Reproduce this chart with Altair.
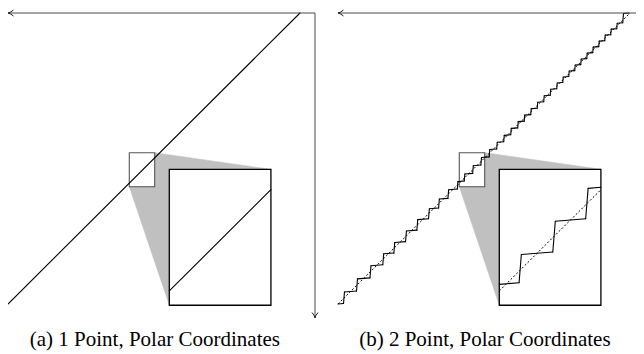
import altair as alt
import pandas as pd

# ---------------- data (panel units: the diagonal runs from (0,0) to (1,1)) ----------------
captions = ["(a) 1 Point, Polar Coordinates", "(b) 2 Point, Polar Coordinates"]
diag_u = [0.0, 1.0]
diag_v = [0.0, 1.0]
# step (riser) positions of the 2-point staircase in panel (b), along the diagonal
stair_risers = [0.0205, 0.0651, 0.1113, 0.1551, 0.1928, 0.2329, 0.2716, 0.3116,
                0.3459, 0.3777, 0.4099, 0.4332, 0.4623, 0.4904, 0.5188, 0.5445,
                0.5685, 0.5925, 0.6164, 0.6387, 0.6610, 0.6832, 0.7055, 0.7277,
                0.7500, 0.7705, 0.7911, 0.8116, 0.8322, 0.8527, 0.8733, 0.8938,
                0.9144, 0.9349, 0.9555, 0.9760]
stair_end = [0.9966, 1.0]
# zoom window (box) and where it is magnified
box_u = [0.4154, 0.5024]
box_v = [0.4031, 0.5199]
zoom = 4.0
inset_origin = [0.5524, 0.4629]   # left, top of inset
# axes arrows
arrow_top_v = 1.0
arrow_right_u = 1.0514
arrow_bottom_v = -0.0481

# ---------------- layout ----------------
W, H = 628, 346
panel_shift = [0.0, 1.1301]
caption_pos = [0.503, -0.1222]
xs = alt.Scale(domain=[0, W / 292.0], range=[0, W], nice=False, zero=False)
ys = alt.Scale(domain=[(296 - H) / 291.0, 296 / 291.0], range=[H, 0], nice=False, zero=False)
squeeze = 0.85


def clip(x0, y0, x1, y1, xmin, xmax, ymin, ymax):
    t0, t1 = 0.0, 1.0
    dx, dy = x1 - x0, y1 - y0
    for p, q in ((-dx, x0 - xmin), (dx, xmax - x0), (-dy, y0 - ymin), (dy, ymax - y0)):
        if p == 0:
            if q < 0:
                return None
        else:
            r = q / p
            if p < 0:
                if r > t1:
                    return None
                t0 = max(t0, r)
            else:
                if r < t0:
                    return None
                t1 = min(t1, r)
    return (x0 + t0 * dx, y0 + t0 * dy, x0 + t1 * dx, y0 + t1 * dy)


def to_inset(u, v):
    return (inset_origin[0] + zoom * (u - box_u[0]), inset_origin[1] + zoom * (v - box_v[1]))


# staircase vertices
levels = [(stair_risers[k] + stair_risers[k + 1]) / 2 for k in range(len(stair_risers) - 1)] + [stair_end[1]]
pts = [(0.0, 0.0)]
prev = 0.0
for r, l in zip(stair_risers, levels):
    pts.append((r, prev))
    pts.append((r, l))
    prev = l
pts.append((stair_end[0], prev))
sq = []
for u, v in pts:
    m, d = (u + v) / 2, (u - v) / 2
    sq.append((m + squeeze * d, m - squeeze * d))
stair_segs = [(sq[i][0], sq[i][1], sq[i + 1][0], sq[i + 1][1]) for i in range(len(sq) - 1)]
diag_seg = [(diag_u[0], diag_v[0], diag_u[1], diag_v[1])]

inset_w = zoom * (box_u[1] - box_u[0])
inset_h = zoom * (box_v[1] - box_v[0])
iu0, iv1 = inset_origin
iu1, iv0 = iu0 + inset_w, iv1 - inset_h

solid_rows, dashed_rows, axis_rows, rect_rows, poly_rows, head_rows, text_rows = [], [], [], [], [], [], []
for p, sh in enumerate(panel_shift):
    main_solid = diag_seg if p == 0 else stair_segs
    main_dashed = [] if p == 0 else diag_seg
    for kind, segs in (("s", main_solid), ("d", main_dashed)):
        for (a, b, c, d) in segs:
            row = dict(x=a + sh, y=b, x2=c + sh, y2=d)
            (solid_rows if kind == "s" else dashed_rows).append(row)
            cl = clip(a, b, c, d, box_u[0], box_u[1], box_v[0], box_v[1])
            if cl:
                p0 = to_inset(cl[0], cl[1])
                p1 = to_inset(cl[2], cl[3])
                r2 = dict(x=p0[0] + sh, y=p0[1], x2=p1[0] + sh, y2=p1[1])
                (solid_rows if kind == "s" else dashed_rows).append(r2)
    axis_rows.append(dict(x=arrow_right_u + sh, y=arrow_top_v, x2=0.0 + sh, y2=arrow_top_v))
    axis_rows.append(dict(x=arrow_right_u + sh, y=arrow_top_v, x2=arrow_right_u + sh, y2=arrow_bottom_v))
    rect_rows.append(dict(x=box_u[0] + sh, x2=box_u[1] + sh, y=box_v[0], y2=box_v[1], kind="box"))
    rect_rows.append(dict(x=iu0 + sh, x2=iu1 + sh, y=iv0, y2=iv1, kind="inset"))
    poly = [(box_u[1], box_v[1]), (iu1, iv1), (iu0, iv0), (box_u[0], box_v[0]), (box_u[1], box_v[0])]
    for i, (a, b) in enumerate(poly):
        poly_rows.append(dict(x=a + sh, y=b, o=i, g=p))
    head_rows.append(dict(x=0.0 + sh, y=arrow_top_v, dir="left"))
    head_rows.append(dict(x=arrow_right_u + sh, y=arrow_bottom_v, dir="down"))
    text_rows.append(dict(x=caption_pos[0] + sh, y=caption_pos[1], t=captions[p]))


def X(f="x"):
    return alt.X(f, type="quantitative", scale=xs, axis=None)


def Y(f="y"):
    return alt.Y(f, type="quantitative", scale=ys, axis=None)


poly_l = alt.Chart(pd.DataFrame(poly_rows)).mark_line(fill="#c0c0c0", stroke="#c0c0c0", strokeWidth=0.5).encode(
    x=X(), y=Y(), order="o:O", detail="g:N")
rects = pd.DataFrame(rect_rows)
inset_l = alt.Chart(rects[rects.kind == "inset"]).mark_rect(fill="white", stroke="black", strokeWidth=1.3).encode(
    x=X(), x2="x2", y=Y(), y2="y2")
box_l = alt.Chart(rects[rects.kind == "box"]).mark_rect(fill=None, fillOpacity=0, stroke="#555555", strokeWidth=1.1).encode(
    x=X(), x2="x2", y=Y(), y2="y2")
dashed_l = alt.Chart(pd.DataFrame(dashed_rows)).mark_rule(color="black", strokeWidth=1, strokeDash=[2, 2]).encode(
    x=X(), x2="x2", y=Y(), y2="y2")
solid_l = alt.Chart(pd.DataFrame(solid_rows)).mark_rule(color="black", strokeWidth=1.1, strokeCap="round").encode(
    x=X(), x2="x2", y=Y(), y2="y2")
axis_l = alt.Chart(pd.DataFrame(axis_rows)).mark_rule(color="#4a4a4a", strokeWidth=1).encode(
    x=X(), x2="x2", y=Y(), y2="y2")
heads = pd.DataFrame(head_rows)
left_l = alt.Chart(heads[heads.dir == "left"]).mark_point(
    shape="M 0 0 Q 1 0.2 2 1.1 M 0 0 Q 1 -0.2 2 -1.1", filled=False, stroke="#222222", strokeWidth=1, size=30, opacity=1
).encode(x=X(), y=Y())
down_l = alt.Chart(heads[heads.dir == "down"]).mark_point(
    shape="M 0 0 Q 0.2 -1 1.1 -2 M 0 0 Q -0.2 -1 -1.1 -2", filled=False, stroke="#222222", strokeWidth=1, size=30, opacity=1
).encode(x=X(), y=Y())
text_l = alt.Chart(pd.DataFrame(text_rows)).mark_text(
    font="Liberation Serif", fontSize=21, align="center", baseline="middle", color="black"
).encode(x=X(), y=Y(), text="t:N")

chart = alt.layer(poly_l, inset_l, box_l, dashed_l, solid_l, axis_l, left_l, down_l, text_l).properties(
    width=W, height=H, autosize=alt.AutoSizeParams(type="none"), padding=0
).configure_view(stroke=None)

chart.save("out.html", embed_options={"renderer": "svg", "actions": False})
